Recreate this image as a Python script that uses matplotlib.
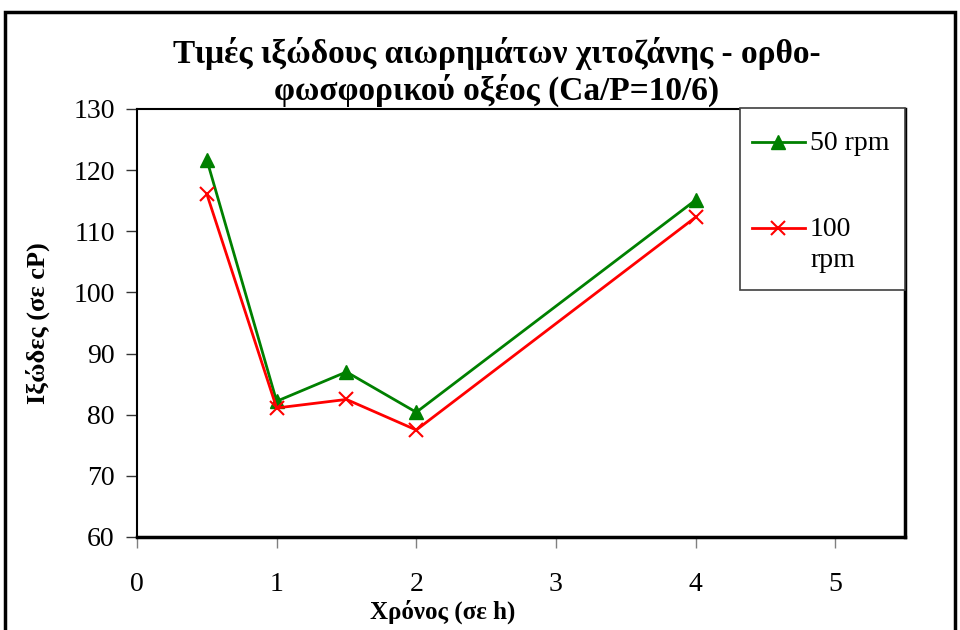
import matplotlib
matplotlib.use("Agg")
import matplotlib.pyplot as plt
from matplotlib.patches import Rectangle
from matplotlib.lines import Line2D

times_h = [0.5, 1, 1.5, 2, 4]
visc_50 = [121.7, 82.2, 87.0, 80.4, 115.1]
visc_100 = [116.1, 81.1, 82.5, 77.5, 112.3]
series_labels = ["50 rpm", "100\nrpm"]
x_ticks = [0, 1, 2, 3, 4, 5]
y_ticks = [60, 70, 80, 90, 100, 110, 120, 130]
title = "Τιμές ιξώδους αιωρημάτων χιτοζάνης - ορθο-\nφωσφορικού οξέος (Ca/P=10/6)"
xlabel = "Χρόνος (σε h)"
ylabel = "Ιξώδες (σε cP)"

plt.rcParams['font.family'] = ['Liberation Serif', 'DejaVu Serif']

W, H = 960, 630
fig = plt.figure(figsize=(9.6, 6.3), dpi=100)


def px(x, y):
    return (x / W, 1 - y / H)


ax = fig.add_axes([137/W, 1-537/H, (905-137)/W, (537-109)/H])

styles = [dict(color='green', marker='^', ms=10, mew=1),
          dict(color='red', marker='x', ms=10, mew=1.5)]
ax.plot(times_h, visc_50, lw=2, **styles[0])
ax.plot(times_h, visc_100, lw=2, **styles[1])

ax.set_xlim(0, 5.5)
ax.set_ylim(60, 130)
ax.set_xticks(x_ticks)
ax.set_yticks(y_ticks)
ax.tick_params(axis='both', direction='out', labelsize=20, colors='black')
ax.tick_params(axis='x', length=8, pad=17, color='gray', width=1)
ax.tick_params(axis='y', length=8, pad=8, color='#333333', width=1)
for s in ax.spines.values():
    s.set_linewidth(1.5)
    s.set_color('black')
ax.spines['right'].set_linewidth(2.5)
ax.spines['bottom'].set_linewidth(2.5)

fig.text(*px(497, 72), title, ha='center', va='center', fontsize=24, fontweight='bold',
         linespacing=1.12)
fig.text(*px(443, 612), xlabel, ha='center', va='center', fontsize=18, fontweight='bold')
fig.text(*px(38, 323), ylabel, rotation=90, ha='center', va='center', fontsize=19,
         fontweight='bold')

# legend box drawn manually
fig.patches.append(Rectangle(px(740, 290), 165/W, 182/H, transform=fig.transFigure,
                             facecolor='white', edgecolor='#404040', lw=1.2, zorder=5))
leg_y = [142, 228]
for i, (st, lab) in enumerate(zip(styles, series_labels)):
    x0, y0 = px(752, leg_y[i])
    x1, _ = px(805, leg_y[i])
    fig.add_artist(Line2D([x0, x1], [y0, y0], transform=fig.transFigure, lw=2, zorder=6,
                          color=st['color']))
    xm, _ = px(778, leg_y[i])
    fig.add_artist(Line2D([xm], [y0], transform=fig.transFigure, zorder=6, ls='none', **st))
    fig.text(*px(810, leg_y[i] - 11), lab, ha='left', va='top', fontsize=20,
             linespacing=1.3, zorder=7)

fig.patches.append(Rectangle((5/W, -0.1), 950/W, 1.1-12/H, transform=fig.transFigure,
                             fill=False, edgecolor='black', lw=2.5))

fig.savefig('out.png', dpi=100)
